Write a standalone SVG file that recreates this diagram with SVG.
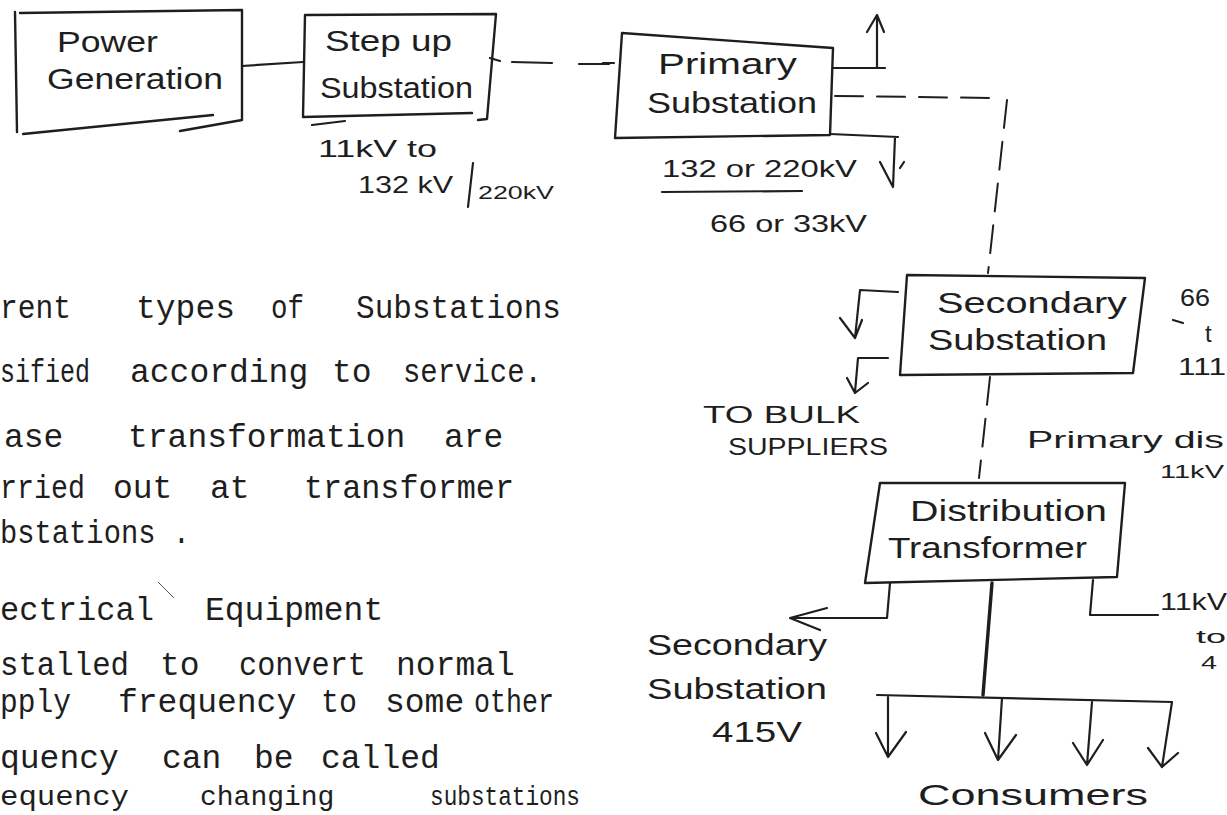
<svg xmlns="http://www.w3.org/2000/svg" width="1227" height="815" viewBox="0 0 1227 815">
<style>
.bx{fill:none;stroke:#1e1e1e;stroke-width:2.4;stroke-linejoin:round;stroke-linecap:round}
.ln{fill:none;stroke:#1e1e1e;stroke-width:2.2;stroke-linecap:round;stroke-linejoin:round}
.ds{fill:none;stroke:#1e1e1e;stroke-width:2;stroke-linecap:round;stroke-dasharray:28 14}
.tk{fill:none;stroke:#1e1e1e;stroke-width:3.4;stroke-linecap:round}
text{font-family:"Liberation Sans","DejaVu Sans",sans-serif;fill:#1e1e1e;font-size:30px}
.n{font-family:"Liberation Mono","DejaVu Sans Mono",monospace;font-size:33px}
.nl{font-family:"Liberation Mono","DejaVu Sans Mono",monospace;font-size:28px}
.s{font-size:24px}
.xs{font-size:19px}
</style>
<rect width="1227" height="815" fill="#ffffff"/>

<g id="power-generation">
<path class="bx" d="M20,13 L242,10 L242,120 L180,131 M15,12 L17,132 M23,134 L213,115"/>
<text x="57" y="52" textLength="101" lengthAdjust="spacingAndGlyphs">Power</text>
<text x="47" y="89" textLength="176" lengthAdjust="spacingAndGlyphs">Generation</text>
</g>

<g id="step-up-substation">
<path class="bx" d="M305,15 L496,14 L487,119 L478,120 M305,15 L303,117 L472,113"/>
<text x="325" y="51" textLength="127" lengthAdjust="spacingAndGlyphs">Step up</text>
<text x="320" y="98" textLength="153" lengthAdjust="spacingAndGlyphs">Substation</text>
<path class="ln" d="M312,125 L345,121"/>
<text class="s" x="318" y="157" textLength="119" lengthAdjust="spacingAndGlyphs">11kV to</text>
<text class="s" x="358" y="193" textLength="95" lengthAdjust="spacingAndGlyphs">132 kV</text>
<path class="ln" d="M473,163 L468,207"/>
<text class="xs" x="478" y="199" textLength="76" lengthAdjust="spacingAndGlyphs">220kV</text>
</g>

<g id="primary-substation">
<path class="bx" d="M622,33 L833,48 L830,135 L615,138 Z"/>
<text x="658" y="74" textLength="139" lengthAdjust="spacingAndGlyphs">Primary</text>
<text x="647" y="113" textLength="170" lengthAdjust="spacingAndGlyphs">Substation</text>
<text class="s" x="662" y="177" textLength="195" lengthAdjust="spacingAndGlyphs">132 or 220kV</text>
<path class="ln" d="M662,192 L802,191"/>
<text class="s" x="710" y="232" textLength="157" lengthAdjust="spacingAndGlyphs">66 or 33kV</text>
</g>

<g id="secondary-substation">
<path class="bx" d="M907,275 L1145,278 L1133,373 L900,375 Z"/>
<text x="937" y="313" textLength="190" lengthAdjust="spacingAndGlyphs">Secondary</text>
<text x="928" y="350" textLength="179" lengthAdjust="spacingAndGlyphs">Substation</text>
<text class="s" x="1180" y="306" textLength="30" lengthAdjust="spacingAndGlyphs">66</text>
<path class="ln" d="M1173,320 L1183,323"/>
<text class="s" x="1205" y="342">t</text>
<text class="s" x="1178" y="375" textLength="48" lengthAdjust="spacingAndGlyphs">111</text>
</g>

<g id="bulk-suppliers">
<text class="s" x="703" y="423" textLength="157" lengthAdjust="spacingAndGlyphs">TO BULK</text>
<text class="s" x="728" y="455" textLength="160" lengthAdjust="spacingAndGlyphs">SUPPLIERS</text>
</g>

<g id="primary-distribution-label">
<text class="s" x="1027" y="448" textLength="197" lengthAdjust="spacingAndGlyphs">Primary dis</text>
<text class="xs" x="1160" y="478" textLength="64" lengthAdjust="spacingAndGlyphs">11kV</text>
</g>

<g id="distribution-transformer">
<path class="bx" d="M880,483 L1125,483 L1117,577 L865,583 Z"/>
<text x="910" y="521" textLength="197" lengthAdjust="spacingAndGlyphs">Distribution</text>
<text x="888" y="558" textLength="199" lengthAdjust="spacingAndGlyphs">Transformer</text>
<text class="s" x="1160" y="610" textLength="67" lengthAdjust="spacingAndGlyphs">11kV</text>
<text class="xs" x="1196" y="643" textLength="30" lengthAdjust="spacingAndGlyphs">to</text>
<text class="xs" x="1201" y="669" textLength="16" lengthAdjust="spacingAndGlyphs">4</text>
</g>

<g id="secondary-substation-415">
<text x="647" y="655" textLength="180" lengthAdjust="spacingAndGlyphs">Secondary</text>
<text x="647" y="699" textLength="180" lengthAdjust="spacingAndGlyphs">Substation</text>
<text x="712" y="742" textLength="90" lengthAdjust="spacingAndGlyphs">415V</text>
</g>

<g id="consumers">
<text x="918" y="805" textLength="230" lengthAdjust="spacingAndGlyphs">Consumers</text>
</g>

<g id="connectors">
<path class="ln" d="M242,66 L303,62"/>
<path class="ln" d="M490,58 L500,61 M512,62 L552,63 M579,64 L609,64 M603,63 L614,63"/>
<path class="ln" d="M833,68 L885,68 M877,68 L877,15 M867,32 L877,15 L884,32"/>
<path class="ds" d="M835,96 L997,98"/>
<path class="ds" d="M1007,100 L988,273"/>
<path class="ln" d="M830,134 L898,137 M895,137 L893,187 M880,162 L893,187 M900,168 L904,162"/>
<path class="ln" d="M898,292 L860,290 L855,338 M840,318 L855,338 L862,320"/>
<path class="ln" d="M888,358 L858,358 L855,392 M847,378 L855,393 L868,383"/>
<path class="ds" d="M990,377 L979,478"/>
<path class="ln" d="M890,583 L887,618 L790,618 M827,608 L790,618 L820,630"/>
<path class="ln" d="M1093,580 L1090,615 L1158,615"/>
<path class="tk" d="M992,583 L983,695"/>
<path class="ln" d="M877,695 L1172,702"/>
<path class="ln" d="M888,697 L888,757 M876,733 L888,757 L906,732"/>
<path class="ln" d="M1002,698 L998,760 M985,733 L998,760 L1016,735"/>
<path class="ln" d="M1092,702 L1087,765 M1073,743 L1087,765 L1103,740"/>
<path class="ln" d="M1172,702 L1162,767 M1148,748 L1162,767 L1178,753"/>
</g>

<g id="notes">
<text class="n" y="318"><tspan x="0" textLength="71" lengthAdjust="spacingAndGlyphs">rent</tspan><tspan x="136">types</tspan><tspan x="271" textLength="33" lengthAdjust="spacingAndGlyphs">of</tspan><tspan x="356" textLength="205" lengthAdjust="spacingAndGlyphs">Substations</tspan></text>
<text class="n" y="382"><tspan x="0" textLength="90" lengthAdjust="spacingAndGlyphs">sified</tspan><tspan x="130">according</tspan><tspan x="332">to</tspan><tspan x="403" textLength="139" lengthAdjust="spacingAndGlyphs">service.</tspan></text>
<text class="n" y="447"><tspan x="4">ase</tspan><tspan x="128">transformation</tspan><tspan x="444">are</tspan></text>
<text class="n" y="498"><tspan x="0" textLength="85" lengthAdjust="spacingAndGlyphs">rried</tspan><tspan x="113">out</tspan><tspan x="210">at</tspan><tspan x="304" textLength="210" lengthAdjust="spacingAndGlyphs">transformer</tspan></text>
<text class="n" x="0" y="543" textLength="190" lengthAdjust="spacingAndGlyphs">bstations .</text>
<path d="M158,582 L174,598" stroke="#555" stroke-width="1" fill="none"/>
<text class="n" y="620"><tspan x="0" textLength="154" lengthAdjust="spacingAndGlyphs">ectrical</tspan><tspan x="205">Equipment</tspan></text>
<text class="n" y="675"><tspan x="0" textLength="129" lengthAdjust="spacingAndGlyphs">stalled</tspan><tspan x="160">to</tspan><tspan x="239" textLength="127" lengthAdjust="spacingAndGlyphs">convert</tspan><tspan x="396">normal</tspan></text>
<text class="n" y="712"><tspan x="0" textLength="71" lengthAdjust="spacingAndGlyphs">pply</tspan><tspan x="118">frequency</tspan><tspan x="321" textLength="36" lengthAdjust="spacingAndGlyphs">to</tspan><tspan x="385">some</tspan><tspan x="474" textLength="80" lengthAdjust="spacingAndGlyphs">other</tspan></text>
<text class="n" y="768"><tspan x="0">quency</tspan><tspan x="162">can</tspan><tspan x="254">be</tspan><tspan x="321">called</tspan></text>
<text class="nl" y="805"><tspan x="0" textLength="129" lengthAdjust="spacingAndGlyphs">equency</tspan><tspan x="200">changing</tspan><tspan x="430" textLength="150" lengthAdjust="spacingAndGlyphs">substations</tspan></text>
</g>
</svg>
